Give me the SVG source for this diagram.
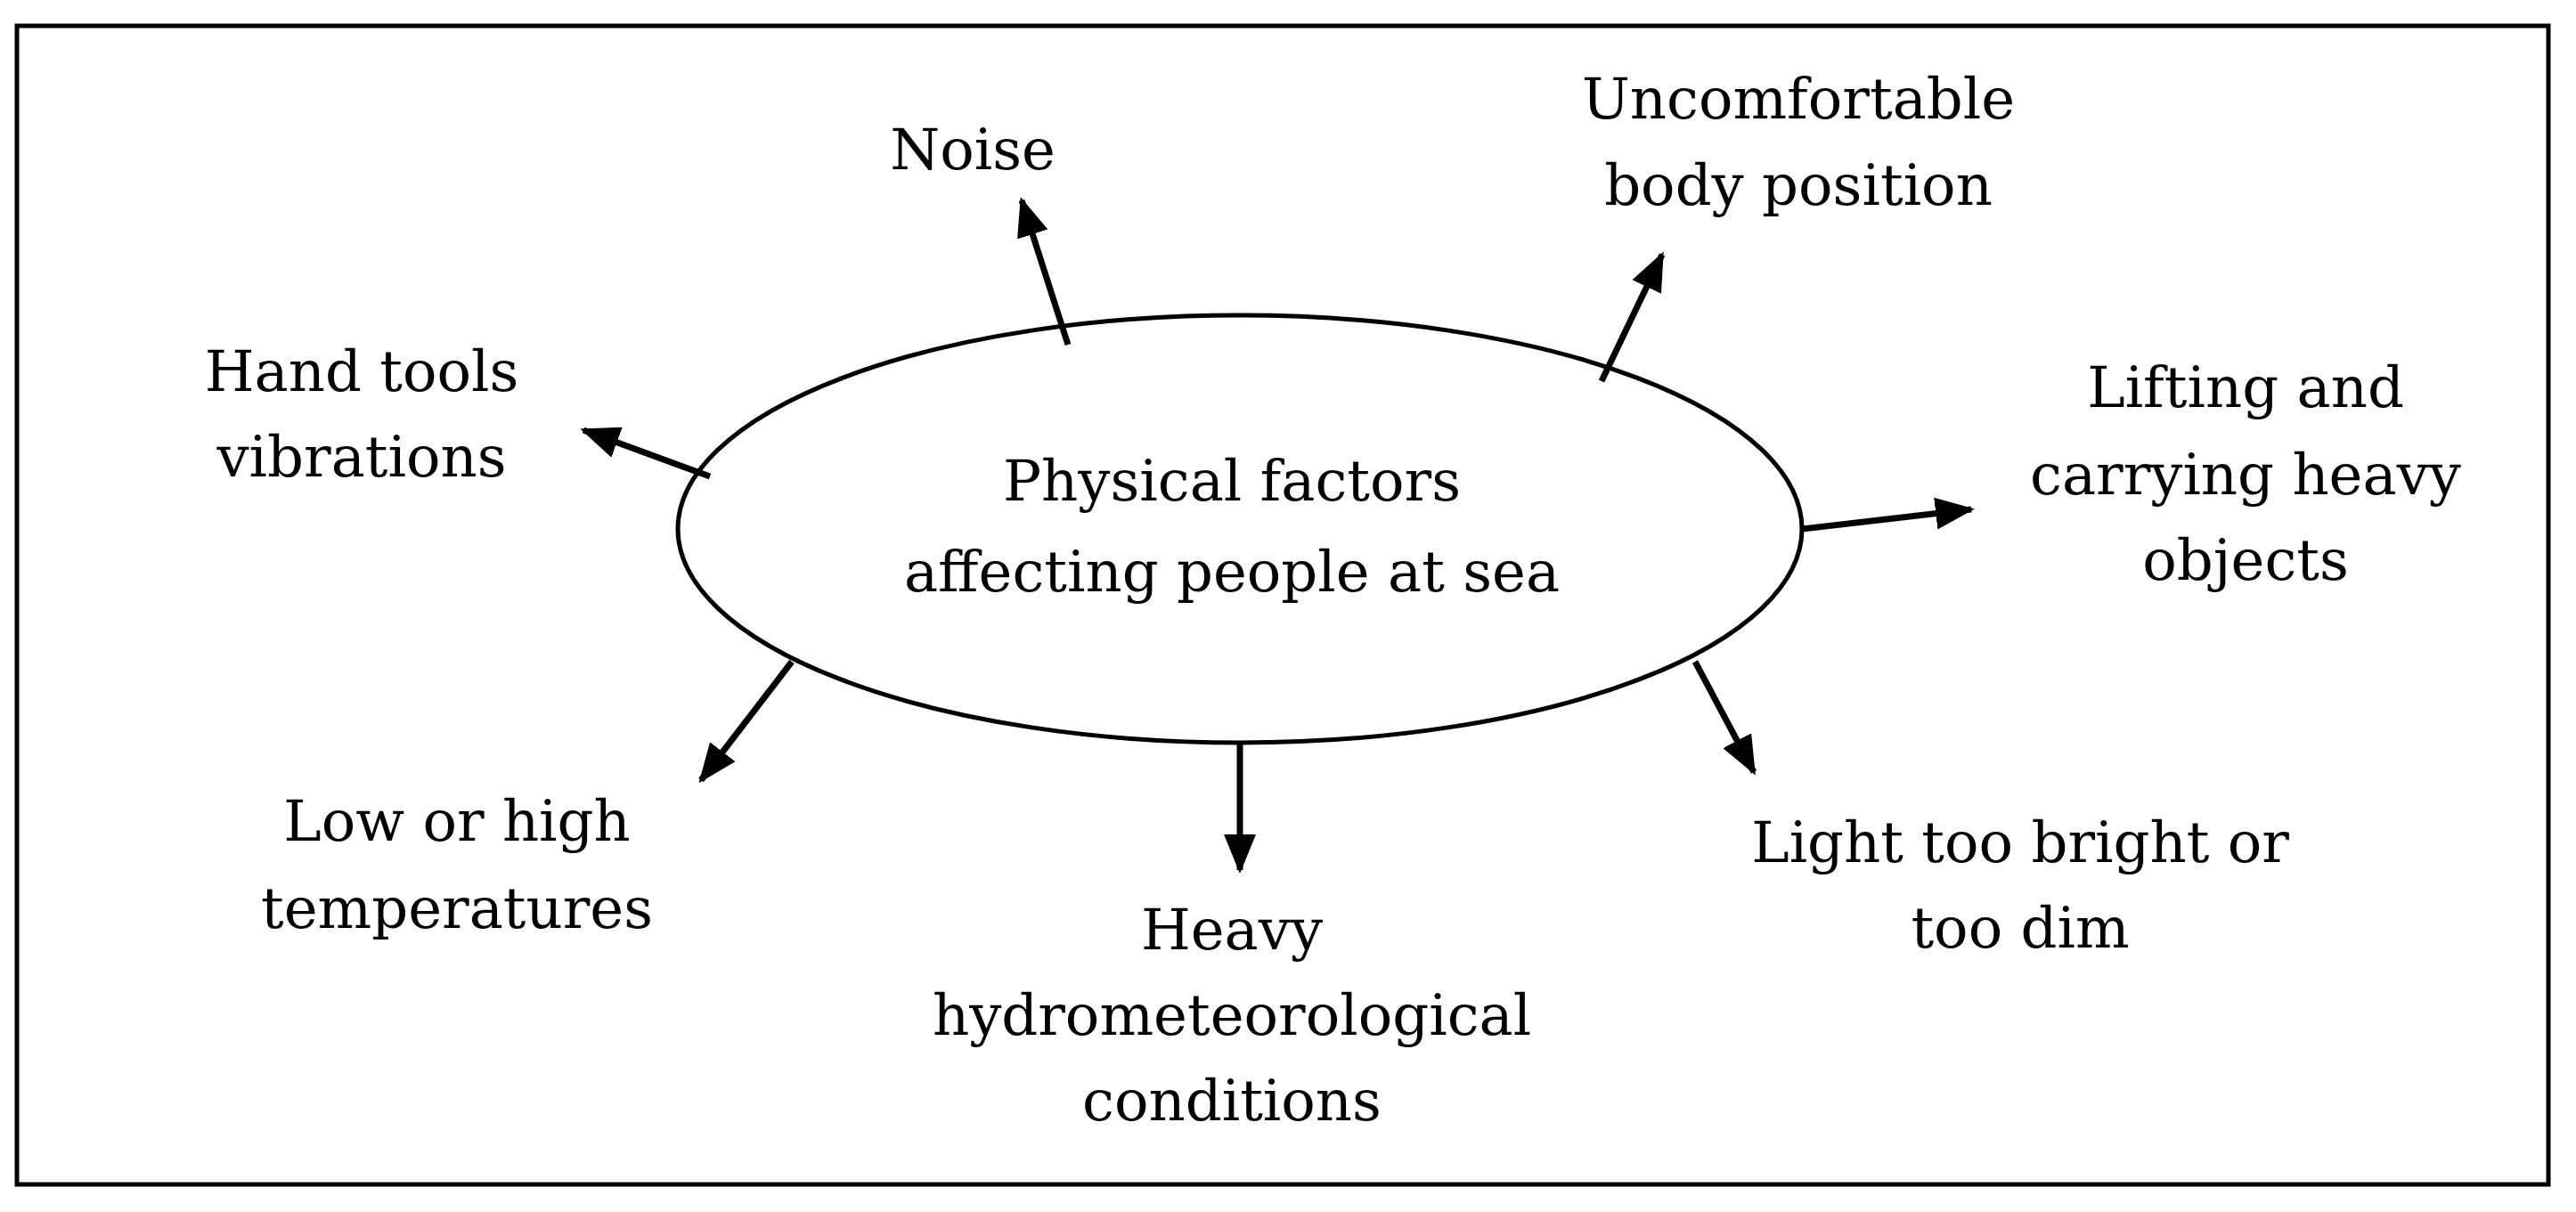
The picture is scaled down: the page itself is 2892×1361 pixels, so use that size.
<svg xmlns="http://www.w3.org/2000/svg" width="2892" height="1361" viewBox="0 0 2892 1361">
<style>
text{font-family:"DejaVu Serif","Liberation Serif",serif;font-size:64px;fill:#000;text-anchor:middle}
.c line{stroke:#000;stroke-width:7;marker-end:url(#ah)}
</style>
<defs><marker id="ah" markerUnits="userSpaceOnUse" markerWidth="44" markerHeight="36" refX="40" refY="18" orient="auto"><path d="M0,0 L44,18 L0,36 Z" fill="#000"/></marker></defs>
<rect x="0" y="0" width="2892" height="1361" fill="#fff"/>
<rect x="19" y="29" width="2842" height="1301" fill="none" stroke="#000" stroke-width="5"/>
<g id="center"><ellipse cx="1392" cy="594" rx="631" ry="240" fill="#fff" stroke="#000" stroke-width="5"/>
<text x="1383" y="562">Physical factors</text><text x="1383" y="664">affecting people at sea</text></g>
<g class="c" id="connectors">
<line x1="1199" y1="387" x2="1147" y2="225"/>
<line x1="1798" y1="428" x2="1866" y2="286"/>
<line x1="2023" y1="594" x2="2213" y2="572"/>
<line x1="1903" y1="743" x2="1969" y2="867"/>
<line x1="1392" y1="833" x2="1392" y2="977"/>
<line x1="889" y1="743" x2="787" y2="876"/>
<line x1="797" y1="535" x2="655" y2="483"/>
</g>
<g id="noise"><text x="1092" y="190">Noise</text></g>
<g id="uncomf"><text x="2019" y="133">Uncomfortable</text><text x="2019" y="230">body position</text></g>
<g id="hand"><text x="406" y="439">Hand tools</text><text x="406" y="535">vibrations</text></g>
<g id="lifting"><text x="2521" y="457">Lifting and</text><text x="2521" y="555">carrying heavy</text><text x="2521" y="651">objects</text></g>
<g id="temp"><text x="513" y="944">Low or high</text><text x="513" y="1042">temperatures</text></g>
<g id="hydro"><text x="1383" y="1066">Heavy</text><text x="1383" y="1162">hydrometeorological</text><text x="1383" y="1258">conditions</text></g>
<g id="light"><text x="2268" y="968">Light too bright or</text><text x="2268" y="1064">too dim</text></g>
</svg>
